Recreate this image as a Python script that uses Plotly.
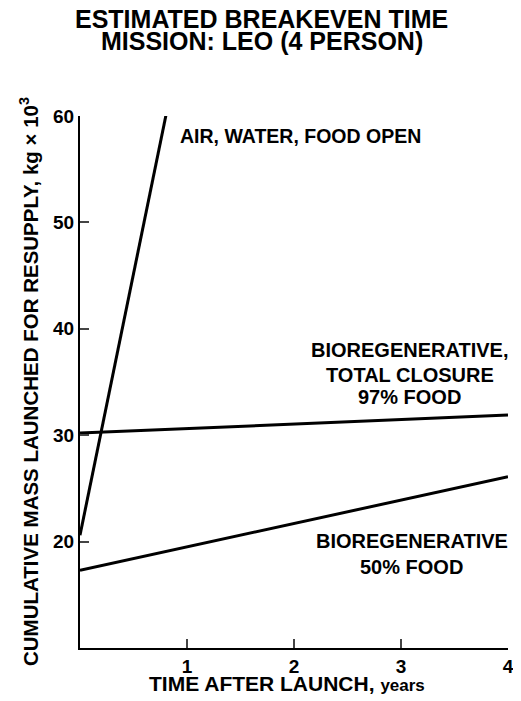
import plotly.graph_objects as go

# Data
years_open = [0, 0.81]
mass_open = [20.6, 60.4]
years_closure = [0, 4]
mass_closure = [30.2, 31.9]
years_half = [0, 4]
mass_half = [17.3, 26.1]

x_ticks = [1, 2, 3, 4]
y_ticks = [20, 30, 40, 50, 60]

title_lines = ["ESTIMATED BREAKEVEN TIME", "MISSION: LEO (4 PERSON)"]
label_open = "AIR, WATER, FOOD OPEN"
label_closure = ["BIOREGENERATIVE,", "TOTAL CLOSURE", "97% FOOD"]
label_half = ["BIOREGENERATIVE", "50% FOOD"]

FONT = "Liberation Sans, Arial, Helvetica, sans-serif"
line_style = dict(color="black", width=3)

# page body has an 8px margin: figure is drawn 8px right/down
W, H = 513, 693
L, R, T, B = 72, 13, 108, 53
PW, PH = W - L - R, H - T - B

fig = go.Figure()
fig.add_trace(go.Scatter(x=years_open, y=mass_open, mode="lines", line=line_style, showlegend=False))
fig.add_trace(go.Scatter(x=years_closure, y=mass_closure, mode="lines", line=line_style, showlegend=False))
fig.add_trace(go.Scatter(x=years_half, y=mass_half, mode="lines", line=line_style, showlegend=False))


def txt(x, y, s, size, xanchor="center", xref="x", yref="y", angle=0):
    fig.add_annotation(x=x, y=y, xref=xref, yref=yref, text=s, showarrow=False,
                       xanchor=xanchor, yanchor="middle", textangle=angle,
                       font=dict(size=size, family=FONT, color="black", weight="bold"))


txt(0.916, 58.1, label_open, 19.5, xanchor="left")
for s, yv in zip(label_closure, [38.0, 35.66, 33.6]):
    txt(3.08, yv, s, 20)
for s, yv in zip(label_half, [20.1, 17.6]):
    txt(3.10, yv, s, 20)

# title lines (paper coords)
for s, ypx in zip(title_lines, [19.5 - 8, 41.5 - 8]):
    txt(0.494 * 0 + (253.5 - L) / PW, (H - B - ypx) / PH, s, 25, xref="paper", yref="paper")

# axis titles
txt((279 - L) / PW, (H - B - 675) / PH,
    "TIME AFTER LAUNCH, <span style='font-size:17px'>years</span>", 21, xref="paper", yref="paper")
txt((21 - L) / PW, 0.5, "CUMULATIVE MASS LAUNCHED FOR RESUPPLY, kg × 10<sup>3</sup>", 20.5,
    xref="paper", yref="paper", angle=-90)

fig.update_layout(
    width=W, height=H,
    margin=dict(l=L, r=R, t=T, b=B),
    paper_bgcolor="white", plot_bgcolor="white",
    font=dict(family=FONT, color="black", size=19, weight="bold"),
    xaxis=dict(range=[0, 4], tickvals=x_ticks, ticks="inside", ticklen=9, tickwidth=2,
               showline=True, linewidth=2, linecolor="black", showgrid=False, zeroline=False,
               automargin=False, tickfont=dict(size=19, weight="bold")),
    yaxis=dict(range=[10, 60], tickvals=y_ticks, ticks="inside", ticklen=9, tickwidth=2,
               showline=True, linewidth=2, linecolor="black", showgrid=False, zeroline=False,
               automargin=False, tickfont=dict(size=19, weight="bold")),
)

fig.write_html("out.html")
